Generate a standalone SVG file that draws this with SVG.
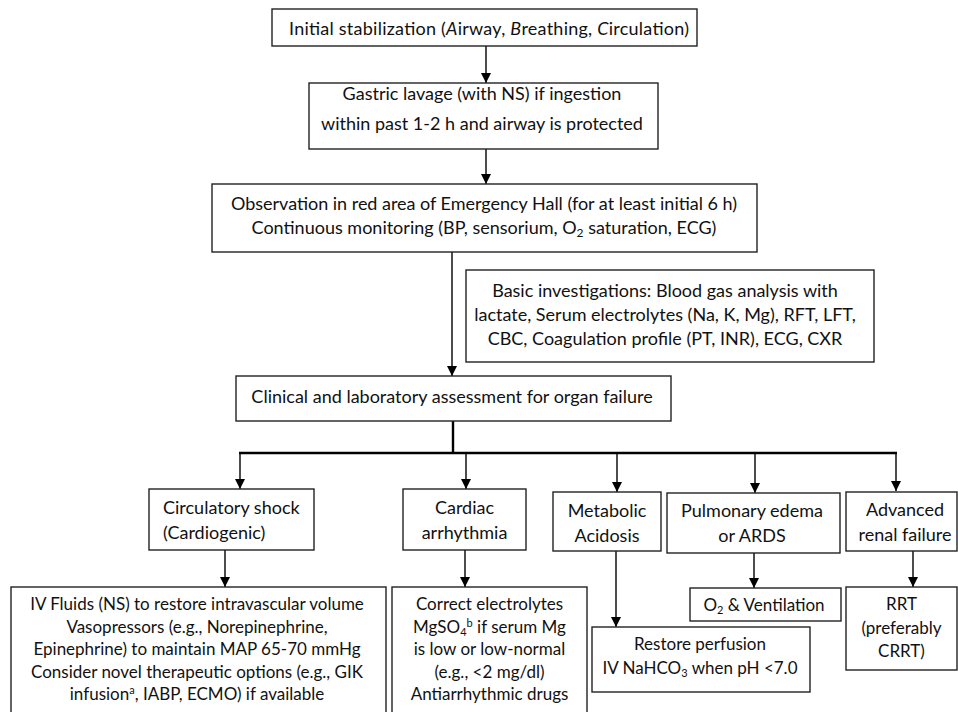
<svg xmlns="http://www.w3.org/2000/svg" width="958" height="712" viewBox="0 0 958 712">
<defs>
<marker id="ah" markerUnits="userSpaceOnUse" markerWidth="10" markerHeight="11" refX="10" refY="5" orient="auto">
<path d="M0,0 L10,5 L0,10 Z" fill="#000"/>
</marker>
<style>
.box{fill:#fff;stroke:#222;stroke-width:1.4}
text{font-family:Lato,"Liberation Sans",sans-serif;font-size:18px;fill:#111}
.s{font-size:17px}
.c{text-anchor:middle}
.ar{stroke:#000;stroke-width:1.4;fill:none;marker-end:url(#ah)}
.thick{stroke:#000;stroke-width:2.4;fill:none}
</style>
</defs>
<rect width="958" height="712" fill="#fff"/>

<g id="connectors">
<line class="ar" x1="486" y1="46" x2="486" y2="83"/>
<line class="ar" x1="486" y1="149" x2="486" y2="184"/>
<line class="ar" x1="452" y1="252" x2="452" y2="376"/>
<line class="thick" x1="453" y1="421" x2="453" y2="453"/>
<line class="thick" x1="239" y1="453" x2="897" y2="453"/>
<line class="ar" x1="240" y1="453" x2="240" y2="489"/>
<line class="ar" x1="466" y1="453" x2="466" y2="489"/>
<line class="ar" x1="617" y1="453" x2="617" y2="492"/>
<line class="ar" x1="755" y1="453" x2="755" y2="493"/>
<line class="ar" x1="896" y1="453" x2="896" y2="491"/>
<line class="ar" x1="225" y1="550" x2="225" y2="587"/>
<line class="ar" x1="465" y1="550" x2="465" y2="587"/>
<line class="ar" x1="616" y1="551" x2="616" y2="627"/>
<line class="ar" x1="754" y1="553" x2="754" y2="588"/>
<line class="ar" x1="913" y1="551" x2="913" y2="587"/>
</g>

<g id="initial">
<rect class="box" x="272" y="9" width="425" height="37"/>
<text class="c" x="489" y="35" textLength="400">Initial stabilization (<tspan font-style="italic">A</tspan>irway, <tspan font-style="italic">B</tspan>reathing, <tspan font-style="italic">C</tspan>irculation)</text>
</g>

<g id="lavage">
<rect class="box" x="309" y="83" width="349" height="66"/>
<text class="c" x="482" y="100">Gastric lavage (with NS) if ingestion</text>
<text class="c" x="482" y="130">within past 1-2 h and airway is protected</text>
</g>

<g id="observation">
<rect class="box" x="212" y="184" width="545" height="68"/>
<text class="c" x="484" y="210" textLength="506">Observation in red area of Emergency Hall (for at least initial 6 h)</text>
<text class="c" x="484" y="234">Continuous monitoring (BP, sensorium, O<tspan font-size="12" dy="3">2</tspan><tspan dy="-3"> saturation, ECG)</tspan></text>
</g>

<g id="investigations">
<rect class="box" x="466" y="270" width="408" height="92"/>
<text class="c" x="665" y="297">Basic investigations: Blood gas analysis with</text>
<text class="c" x="665" y="321">lactate, Serum electrolytes (Na, K, Mg), RFT, LFT,</text>
<text class="c" x="665" y="345">CBC, Coagulation profile (PT, INR), ECG, CXR</text>
</g>

<g id="assessment">
<rect class="box" x="236" y="376" width="435" height="45"/>
<text class="c" x="452" y="403">Clinical and laboratory assessment for organ failure</text>
</g>

<g id="shock">
<rect class="box" x="149" y="489" width="165" height="61"/>
<text x="163" y="514">Circulatory shock</text>
<text x="163" y="539">(Cardiogenic)</text>
</g>

<g id="arrhythmia">
<rect class="box" x="403" y="489" width="123" height="61"/>
<text class="c" x="464.5" y="514">Cardiac</text>
<text class="c" x="464.5" y="539">arrhythmia</text>
</g>

<g id="acidosis">
<rect class="box" x="553" y="492" width="108" height="59"/>
<text class="c" x="607" y="517">Metabolic</text>
<text class="c" x="607" y="542">Acidosis</text>
</g>

<g id="pulmonary">
<rect class="box" x="667" y="493" width="173" height="60"/>
<text class="c" x="752" y="517">Pulmonary edema</text>
<text class="c" x="752" y="542">or ARDS</text>
</g>

<g id="renal">
<rect class="box" x="846" y="492" width="111" height="59"/>
<text class="c" x="905" y="516">Advanced</text>
<text class="c" x="905" y="541">renal failure</text>
</g>

<g id="fluids">
<rect class="box" x="11" y="587" width="375" height="128"/>
<text class="c s" x="197" y="610">IV Fluids (NS) to restore intravascular volume</text>
<text class="c s" x="197" y="633">Vasopressors (e.g., Norepinephrine,</text>
<text class="c s" x="197" y="655">Epinephrine) to maintain MAP 65-70 mmHg</text>
<text class="c s" x="197" y="678">Consider novel therapeutic options (e.g., GIK</text>
<text class="c s" x="197" y="700">infusion<tspan font-size="11" dy="-6">a</tspan><tspan dy="6">, IABP, ECMO) if available</tspan></text>
</g>

<g id="electrolytes">
<rect class="box" x="392" y="587" width="195" height="128"/>
<text class="c s" x="489.5" y="610">Correct electrolytes</text>
<text class="c s" x="489.5" y="633">MgSO<tspan font-size="11" dy="3">4</tspan><tspan font-size="11" dy="-9">b</tspan><tspan dy="6"> if serum Mg</tspan></text>
<text class="c s" x="489.5" y="655">is low or low-normal</text>
<text class="c s" x="489.5" y="678">(e.g., &lt;2 mg/dl)</text>
<text class="c s" x="489.5" y="700">Antiarrhythmic drugs</text>
</g>

<g id="perfusion">
<rect class="box" x="592" y="627" width="218" height="65"/>
<text class="c s" x="700" y="650">Restore perfusion</text>
<text class="c s" x="700" y="674">IV NaHCO<tspan font-size="11" dy="3">3</tspan><tspan dy="-3"> when pH &lt;7.0</tspan></text>
</g>

<g id="ventilation">
<rect class="box" x="690" y="588" width="151" height="33"/>
<text class="c s" x="764" y="611">O<tspan font-size="11" dy="3">2</tspan><tspan dy="-3"> &amp; Ventilation</tspan></text>
</g>

<g id="rrt">
<rect class="box" x="846" y="587" width="111" height="83"/>
<text class="c s" x="901.5" y="610">RRT</text>
<text class="c s" x="901.5" y="634">(preferably</text>
<text class="c s" x="901.5" y="657">CRRT)</text>
</g>
</svg>
